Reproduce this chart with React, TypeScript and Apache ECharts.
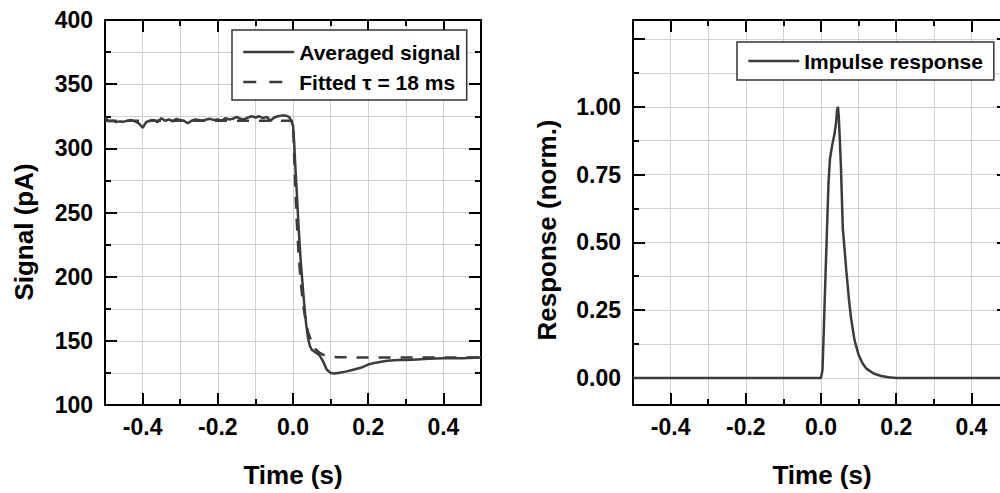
import React, { useEffect, useRef } from "react";
import * as echarts from "echarts";

// ---------- Data ----------
const avgTime = [
  -0.5, -0.49, -0.48, -0.47, -0.46, -0.45, -0.44, -0.43, -0.42, -0.41,
  -0.4, -0.39, -0.38, -0.37, -0.36, -0.35, -0.34, -0.33, -0.32, -0.31,
  -0.3, -0.29, -0.28, -0.27, -0.26, -0.25, -0.24, -0.23, -0.22, -0.21,
  -0.2, -0.19, -0.18, -0.17, -0.16, -0.15, -0.14, -0.13, -0.12, -0.11,
  -0.1, -0.09, -0.08, -0.07, -0.06, -0.05, -0.04, -0.03, -0.02, -0.01,
  0, 0.003, 0.006, 0.01, 0.015, 0.02, 0.025, 0.03, 0.035, 0.04, 0.045,
  0.05, 0.06, 0.07, 0.08, 0.09, 0.1, 0.11, 0.12, 0.14, 0.16, 0.18, 0.2,
  0.22, 0.25, 0.28, 0.3, 0.33, 0.36, 0.4, 0.45, 0.5,
];
const avgSignal = [
  324, 321, 321.5, 320.5, 321, 320.8, 321.5, 322, 321, 319.5,
  316, 320.5, 321.5, 322, 320.5, 323.5, 321.5, 322.5, 321, 323,
  322, 321.5, 319.5, 321.5, 322.5, 322, 321.5, 322.5, 323, 322,
  322.5, 321.5, 323.5, 322.5, 323, 324.5, 323, 322.5, 324, 325,
  324, 325, 323.5, 324.5, 321.5, 324, 325, 325.5, 325.5, 324.5,
  318, 305, 287, 266, 238, 214, 196, 178, 163, 152, 146,
  143, 141, 139, 134, 127.5, 125, 124.5, 125, 126, 127.5, 129, 131.5,
  133, 134.5, 135, 135, 135.5, 136, 136.5, 136.5, 137,
];
const fitTime = [
  -0.5, -0.3, -0.1, 0, 0.005, 0.01, 0.015, 0.02, 0.025, 0.03, 0.035, 0.04,
  0.05, 0.06, 0.07, 0.08, 0.1, 0.12, 0.15, 0.2, 0.3, 0.4, 0.5,
];
const fitSignal = [
  321.5, 321.5, 321.5, 321.5, 277, 243, 217, 198, 183, 172, 163.5, 157,
  148.5, 143.6, 140.8, 139.2, 137.7, 137.3, 137.1, 137, 137, 137, 137,
];
const irTime = [
  -0.5, -0.2, 0, 0.004, 0.008, 0.012, 0.016, 0.02, 0.024, 0.03, 0.036, 0.04,
  0.043, 0.045, 0.047, 0.05, 0.053, 0.058, 0.063, 0.067, 0.071, 0.075, 0.08,
  0.089, 0.1, 0.11, 0.12, 0.14, 0.16, 0.18, 0.2, 0.3, 0.5,
];
const irValue = [
  0, 0, 0, 0.03, 0.2, 0.38, 0.55, 0.72, 0.81, 0.86, 0.9, 0.94,
  0.99, 1.0, 0.97, 0.88, 0.78, 0.55, 0.47, 0.4, 0.34, 0.28, 0.22,
  0.14, 0.085, 0.055, 0.035, 0.016, 0.007, 0.002, 0, 0, 0,
];

const xAllTicks = [-0.4, -0.3, -0.2, -0.1, 0, 0.1, 0.2, 0.3, 0.4];
const xMajorTicks = [-0.4, -0.2, 0, 0.2, 0.4];
const xLabels = [-0.4, -0.2, 0, 0.2, 0.4];
const y1AllTicks = [125, 150, 175, 200, 225, 250, 275, 300, 325, 350, 375];
const y1MajorTicks = [150, 200, 250, 300, 350];
const y1Labels = [100, 150, 200, 250, 300, 350, 400];
const y2AllTicks = [0, 0.125, 0.25, 0.375, 0.5, 0.625, 0.75, 0.875, 1, 1.125, 1.25];
const y2MajorTicks = [0, 0.25, 0.5, 0.75, 1, 1.25];
const y2Labels = [0, 0.25, 0.5, 0.75, 1];

const legend1 = ["Averaged signal", "Fitted τ = 18 ms"];
const legend2 = ["Impulse response"];

const FONT = "'Liberation Sans', Arial, Helvetica, sans-serif";
const LINE = "#3c3c3c";
const GRIDC = "#d2d2d2";

function zip(a: number[], b: number[]) {
  return a.map((v, i) => [v, b[i]]);
}

function axisSet(
  dim: "x" | "y",
  gridIndex: number,
  min: number,
  max: number,
  all: number[],
  major: number[],
  labels: number[],
  digits: number
) {
  const posA = dim === "x" ? "bottom" : "left";
  const posB = dim === "x" ? "top" : "right";
  const base = (position: string) => ({
    type: "value",
    gridIndex,
    min,
    max,
    position,
    offset: 0,
    axisLine: { show: false, onZero: false },
    axisTick: { show: false },
    axisLabel: { show: false },
    splitLine: { show: false },
  });
  const lineStyle = { color: "#000", width: 2 };
  const minor = (position: string, grid: boolean) => ({
    ...base(position),
    axisLine: { show: true, onZero: false, lineStyle },
    axisTick: { show: true, inside: true, length: 6, customValues: all, lineStyle },
    splitLine: { show: grid, lineStyle: { color: GRIDC, width: 1 } },
  });
  const majorAx = (position: string, withLabels: boolean) => ({
    ...base(position),
    axisTick: { show: true, inside: true, length: 12, customValues: major, lineStyle },
    axisLabel: withLabels
      ? {
          show: true,
          customValues: labels,
          formatter: (v: number) => v.toFixed(digits),
          fontFamily: FONT,
          fontWeight: "bold",
          fontSize: 23,
          color: "#000",
          margin: dim === "x" ? 10 : 12,
        }
      : { show: false },
  });
  return [minor(posA, true), majorAx(posA, true), minor(posB, false), majorAx(posB, false)];
}

export default function App() {
  const ref = useRef<HTMLDivElement>(null);
  useEffect(() => {
    if (!ref.current) return;
    const chart = echarts.init(ref.current, undefined, { renderer: "svg" });
    const legendText = {
      fontFamily: FONT,
      fontWeight: "bold",
      fontSize: 21,
      color: "#000",
      lineHeight: 24,
    };
    const legendCommon = {
      orient: "vertical",
      itemWidth: 51,
      itemHeight: 2,
      borderColor: "#333",
      borderWidth: 1.5,
      backgroundColor: "#fff",
      selectedMode: false,
      textStyle: legendText,
      itemStyle: { opacity: 0, borderWidth: 0 },
      lineStyle: { width: 2.5 },
    };
    const nameFont = `bold 26px ${FONT}`;
    chart.setOption({
      animation: false,
      backgroundColor: "#fff",
      grid: [
        { left: 105, top: 20, width: 376, height: 385, outerBoundsMode: "none", containLabel: false },
        { left: 633, top: 20, width: 376, height: 385, outerBoundsMode: "none", containLabel: false },
      ],
      xAxis: [
        ...axisSet("x", 0, -0.5, 0.5, xAllTicks, xMajorTicks, xLabels, 1),
        ...axisSet("x", 1, -0.5, 0.5, xAllTicks, xMajorTicks, xLabels, 1),
      ],
      yAxis: [
        ...axisSet("y", 0, 100, 400, y1AllTicks, y1MajorTicks, y1Labels, 0),
        ...axisSet("y", 1, -0.1, 1.32, y2AllTicks, y2MajorTicks, y2Labels, 2),
      ],
      legend: [
        {
          ...legendCommon,
          data: [
            { name: legend1[0] },
            { name: legend1[1], lineStyle: { width: 2.5, type: [13, 13] } },
          ],
          left: 232,
          top: 30,
          itemGap: 6,
          padding: [10, 6, 6, 10],
        },
        {
          ...legendCommon,
          data: legend2,
          left: 737,
          top: 42,
          padding: [7, 11, 7, 10],
        },
      ],
      series: [
        {
          type: "line",
          name: legend1[0],
          xAxisIndex: 0,
          yAxisIndex: 0,
          data: zip(avgTime, avgSignal),
          symbol: "none",
          showSymbol: false,
          lineStyle: { color: LINE, width: 2.5 },
          itemStyle: { color: LINE },
          z: 3,
        },
        {
          type: "line",
          name: legend1[1],
          xAxisIndex: 0,
          yAxisIndex: 0,
          data: zip(fitTime, fitSignal),
          symbol: "none",
          showSymbol: false,
          lineStyle: { color: LINE, width: 2.5, type: [12, 10] },
          itemStyle: { color: LINE },
          z: 2,
        },
        {
          type: "line",
          name: legend2[0],
          xAxisIndex: 4,
          yAxisIndex: 4,
          data: zip(irTime, irValue),
          symbol: "none",
          showSymbol: false,
          lineStyle: { color: LINE, width: 2.5 },
          itemStyle: { color: LINE },
          z: 3,
        },
      ],
      graphic: [
        {
          type: "text",
          x: 24,
          y: 232,
          rotation: Math.PI / 2,
          style: { text: "Signal (pA)", font: nameFont, fill: "#000", align: "center", verticalAlign: "middle" },
        },
        {
          type: "text",
          x: 293,
          y: 475,
          style: { text: "Time (s)", font: nameFont, fill: "#000", align: "center", verticalAlign: "middle" },
        },
        {
          type: "text",
          x: 547,
          y: 230,
          rotation: Math.PI / 2,
          style: { text: "Response (norm.)", font: nameFont, fill: "#000", align: "center", verticalAlign: "middle" },
        },
        {
          type: "text",
          x: 822,
          y: 475,
          style: { text: "Time (s)", font: nameFont, fill: "#000", align: "center", verticalAlign: "middle" },
        },
      ],
    });
    return () => chart.dispose();
  }, []);
  return (
    <div
      ref={ref}
      style={{ position: "absolute", left: 0, top: 0, width: 1000, height: 493, overflow: "hidden" }}
    />
  );
}
